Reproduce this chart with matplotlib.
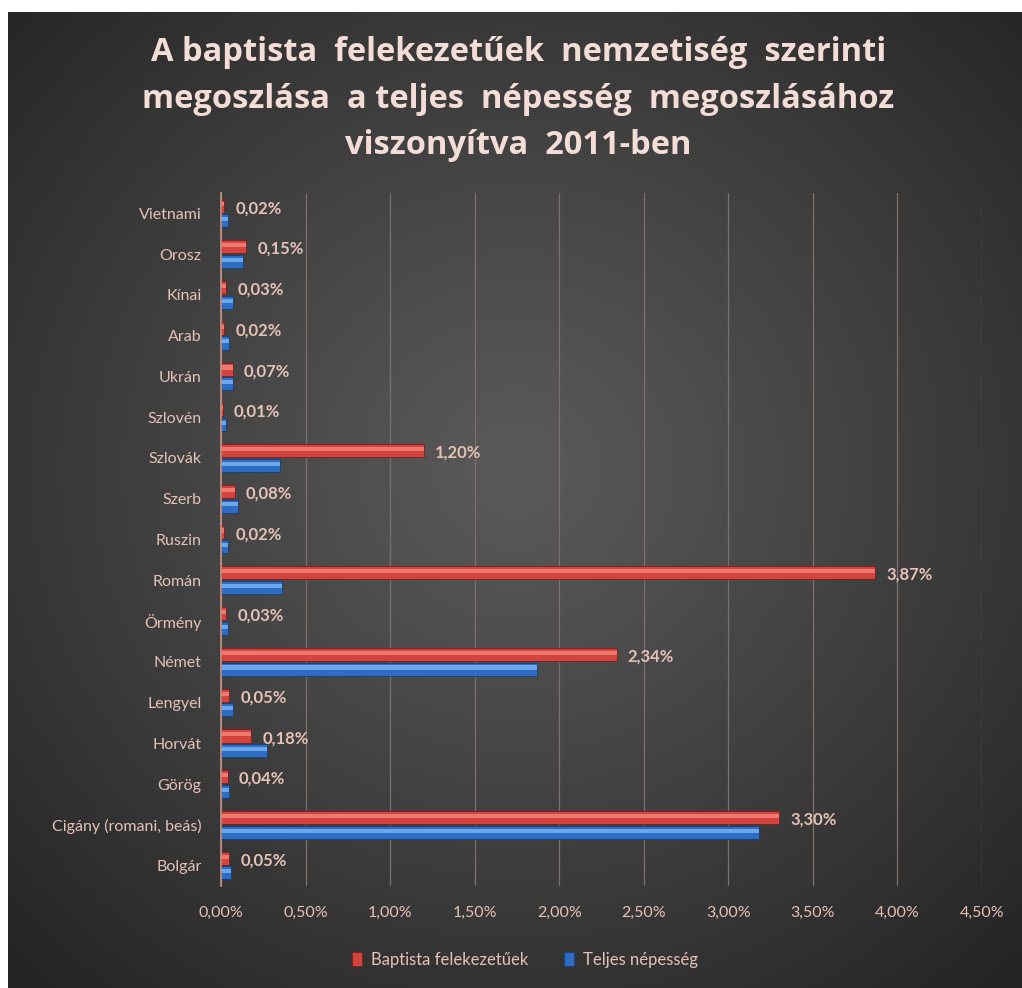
import numpy as np
import matplotlib
matplotlib.use("Agg")
import matplotlib.pyplot as plt
from matplotlib.ticker import FuncFormatter

plt.rcParams['font.family'] = ['Lato', 'DejaVu Sans']

# categories listed from top to bottom as in the chart
categories = ["Vietnami", "Orosz", "Kínai", "Arab", "Ukrán", "Szlovén", "Szlovák",
              "Szerb", "Ruszin", "Román", "Örmény", "Német", "Lengyel", "Horvát",
              "Görög", "Cigány (romani, beás)", "Bolgár"]
baptista = [0.02, 0.15, 0.03, 0.02, 0.07, 0.01, 1.20, 0.08, 0.02, 3.87,
            0.03, 2.34, 0.05, 0.18, 0.04, 3.30, 0.05]
teljes = [0.04, 0.13, 0.07, 0.05, 0.07, 0.03, 0.35, 0.10, 0.04, 0.36,
          0.04, 1.87, 0.07, 0.27, 0.05, 3.18, 0.06]
x_ticks = [0, 0.5, 1.0, 1.5, 2.0, 2.5, 3.0, 3.5, 4.0, 4.5]
series_names = ["Baptista felekezetűek", "Teljes népesség"]

title = ("A baptista  felekezetűek  nemzetiség  szerinti\n"
         "megoszlása  a teljes  népesség  megoszlásához\n"
         "viszonyítva  2011-ben")
text_col = "#e6c2b6"

W, H = 1022, 988
fig = plt.figure(figsize=(W / 100, H / 100), dpi=100, facecolor="white")

# dark radial-gradient chart area
bg = fig.add_axes([8 / W, 0, (W - 8) / W, (H - 12) / H])
bg.set_axis_off()
yy, xx = np.mgrid[0:300, 0:300]
d = np.sqrt(((xx - 150) / 150.0) ** 2 + ((yy - 140) / 150.0) ** 2)
v = 90 - 54 * np.clip(d / 1.42, 0, 1) ** 1.1
bg.imshow(np.dstack([v, v, v]) / 255.0, aspect="auto", extent=[0, 1, 0, 1])

ax = fig.add_axes([221 / W, 1 - 886 / H, 761 / W, 693 / H])
ax.set_facecolor("none")

n = len(categories)
y = np.arange(n)[::-1]
h = 0.32
off = 0.18

red_y = y + off
blue_y = y - off
b_red = ax.barh(red_y, baptista, height=h, color="#d4443e", edgecolor="#7a1f1c",
                linewidth=0.6, zorder=3, label=series_names[0])
ax.barh(red_y + 0.04, baptista, height=0.1, color="#f5837a", linewidth=0, alpha=0.85, zorder=4)
b_blue = ax.barh(blue_y, teljes, height=h, color="#2d6ec4", edgecolor="#173f78",
                 linewidth=0.6, zorder=3, label=series_names[1])
ax.barh(blue_y + 0.04, teljes, height=0.1, color="#78b2f0", linewidth=0, alpha=0.85, zorder=4)

for val, yp in zip(baptista, red_y):
    ax.annotate(("%.2f%%" % val).replace(".", ","), xy=(val, yp - 0.05),
                xytext=(8, 0), textcoords="offset points", va="center", ha="left",
                color=text_col, fontsize=12, fontweight="bold", zorder=5)

ax.set_xlim(0, 4.5)
ax.set_ylim(-0.5, n - 0.5)
ax.set_xticks(x_ticks)
ax.xaxis.set_major_formatter(FuncFormatter(lambda t, p: ("%.2f%%" % t).replace(".", ",")))
ax.set_yticks(y)
ax.set_yticklabels(categories)
ax.tick_params(axis="both", length=0, colors=text_col, labelsize=11.5)
ax.tick_params(axis="y", pad=14)
ax.tick_params(axis="x", pad=14)
ax.grid(axis="x", color="#7c706c", linewidth=0.9, zorder=0)
ax.set_axisbelow(True)
for s in ["top", "right", "bottom"]:
    ax.spines[s].set_visible(False)
ax.spines["left"].set_color("#c99484")
ax.spines["left"].set_linewidth(1.2)
ax.spines["left"].set_zorder(6)

fig.text(0.507, 1 - 99 / H, title, ha="center", va="center", color="#f3ddd6",
         fontsize=23.5, fontweight="bold", linespacing=1.55,
         family=["Open Sans", "DejaVu Sans"])

leg = ax.legend(handles=[b_red, b_blue], labels=series_names,
                loc="center", bbox_to_anchor=((525 - 221) / 761, (886 - 960) / 693),
                ncol=2, frameon=False, fontsize=12, handlelength=0.6, handleheight=0.9,
                columnspacing=2.2, handletextpad=0.5)
for t in leg.get_texts():
    t.set_color(text_col)

fig.savefig("out.png", dpi=100, facecolor="white")
